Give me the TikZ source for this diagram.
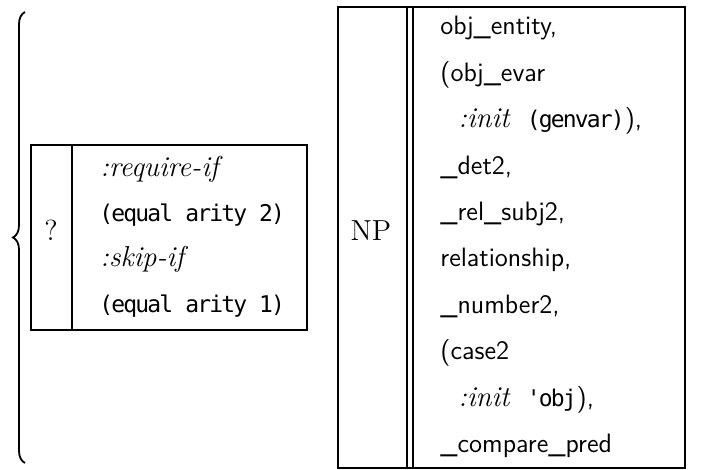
\documentclass[tikz,border=0pt]{standalone}
\usepackage{fontspec}
\usepackage{tikz}
\usetikzlibrary{decorations.pathreplacing}

\newfontfamily\lispfont[LetterSpace=-8]{DejaVu Sans Mono}

\tikzset{
  rule/.style={line width=0.9pt},
  entry/.style={anchor=base west, inner sep=0pt, font=\fontsize{13.3}{16}\selectfont\sffamily},
  head/.style={anchor=base, inner sep=0pt, font=\fontsize{14.5}{17}\selectfont},
}
\newcommand{\kw}[1]{{\fontsize{14.4}{17}\selectfont\rmfamily\itshape #1}}
\newcommand{\lisp}[1]{{\fontsize{11.5}{14}\selectfont\lispfont #1}}

\begin{document}
\begin{tikzpicture}[x=0.5pt,y=-0.5pt]
    \useasboundingbox (0,0) rectangle (707,470);

    % the brace round the optional part
    \draw[rule, decorate, decoration={brace, amplitude=6pt}] (25,463) -- (25,12);

    % optional constituent
    \draw[rule] (31,145) rectangle (307,330);
    \draw[rule] (72,145) -- (72,330);
    \node[head] (opt) at (51,241) {?};
    \node[entry] (req)  at (100,177) {\kw{:require-if}};
    \node[entry] (reqt) at (99,222)  {\lisp{(equal arity 2)}};
    \node[entry] (skip) at (100,267) {\kw{:skip-if}};
    \node[entry] (skipt) at (99,313) {\lisp{(equal arity 1)}};

    % NP constituent
    \draw[rule] (338,7) rectangle (685,468);
    \draw[rule] (407,7) -- (407,468);
    \draw[rule] (413,7) -- (413,468);
    \node[head] (np) at (371,241) {NP};
    \node[entry] (ent)   at (440,35)    {obj\_entity,};
    \node[entry] (evar)  at (440,81.4)  {(obj\_evar};
    \node[entry] (evari) at (458,127.8) {\kw{:init}\ \ \lisp{(genvar)}),};
    \node[entry] (det)   at (440,174.2) {\_det2,};
    \node[entry] (rel)   at (440,220.6) {\_rel\_subj2,};
    \node[entry] (relsh) at (440,267)   {relationship,};
    \node[entry] (num)   at (440,313.4) {\_number2,};
    \node[entry] (case)  at (440,359.8) {(case2};
    \node[entry] (casei) at (458,406.2) {\kw{:init}\ \ \lisp{'obj}),};
    \node[entry] (comp)  at (440,452.6) {\_compare\_pred};

\end{tikzpicture}
\end{document}
